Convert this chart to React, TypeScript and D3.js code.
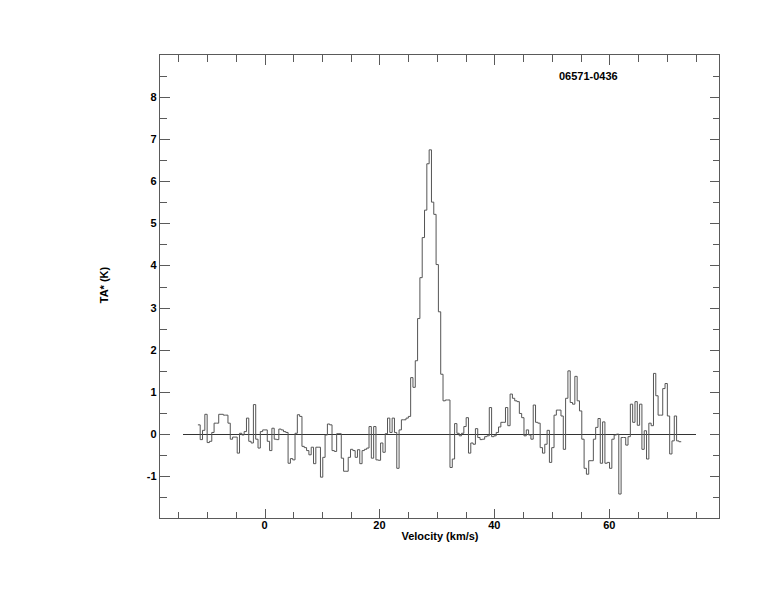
import React from 'react';
import * as d3 from 'd3';

const sourceName = '06571-0436';
const xTitle = 'Velocity (km/s)';
const yTitle = 'TA* (K)';

// spectrum channels (left edge of first channel, channel width in km/s)
const channelStart = -11.59;
const channelWidth = 0.4024;
const antennaTemp = [
  0.22, -0.13, 0.09, 0.47, -0.2, -0.17, 0.04, 0.26, 0.26, 0.47,
  0.47, 0.45, 0.45, 0.26, -0.12, -0.07, -0.07, -0.45, 0.02, -0.02,
  0.06, 0.38, -0.17, -0.21, 0.7, -0.12, -0.33, 0.06, 0.1, 0.1,
  -0.17, -0.39, 0.14, -0.12, -0.13, 0.12, 0.1, 0.06, 0.04, -0.69,
  -0.58, -0.61, 0.02, 0.46, 0.42, -0.29, -0.32, -0.39, -0.49, -0.31,
  -0.7, -0.31, -0.31, -1.02, -0.55, -0.02, 0.24, 0.22, -0.39, -0.41,
  0.01, 0.01, -0.57, -0.88, -0.88, -0.55, -0.36, -0.39, -0.55, -0.37,
  -0.7, -0.39, -0.36, -0.33, 0.18, -0.57, 0.18, -0.61, -0.62, -0.21,
  -0.43, 0.01, 0.38, 0.04, 0.38, 0.04, -0.81, 0.1, 0.34, 0.34,
  0.38, 0.42, 1.34, 1.11, 1.74, 2.74, 3.71, 4.66, 5.31, 6.41,
  6.74, 5.5, 5.21, 4.02, 2.9, 1.42, 0.79, 0.81, 0.81, -0.79,
  -0.59, 0.25, 0.02, -0.04, 0.02, 0.18, 0.39, -0.45, -0.21, -0.24,
  0.13, -0.08, -0.13, -0.12, -0.06, -0.04, 0.63, -0.06, -0.04, 0.04,
  0.17, 0.28, 0.28, 0.63, 0.2, 0.95, 0.85, 0.79, 0.77, 0.49,
  0.39, -0.04, 0.1, -0.02, -0.12, 0.69, 0.28, 0.26, -0.32, -0.45,
  -0.24, 0.09, -0.67, -0.32, 0.45, 0.57, 0.57, 0.43, -0.36, 0.85,
  1.5, 0.75, 0.71, 1.37, 0.79, 0.55, -0.12, -0.81, -0.95, -0.63,
  -0.63, -0.12, 0.16, 0.37, -0.69, 0.29, -0.69, -0.67, -0.81, -0.12,
  -0.02, 0.0, -1.42, -0.08, -0.08, -0.26, -0.06, 0.71, 0.28, 0.77,
  0.21, 0.71, -0.36, 0.08, -0.59, 0.26, 0.2, 1.44, 0.91, 0.45,
  0.45, 1.08, 1.2, 0.43, -0.47, -0.16, 0.43, -0.16, -0.18,
];

const xDomain = [-18.27, 79.17];
const yDomain = [-2, 9];
const xTickValues = [-15, -10, -5, 0, 5, 10, 15, 20, 25, 30, 35, 40, 45, 50, 55, 60, 65, 70, 75];
const xLabelValues = [0, 20, 40, 60];
const yTickValues = [-1.5, -1, -0.5, 0, 0.5, 1, 1.5, 2, 2.5, 3, 3.5, 4, 4.5, 5, 5.5, 6, 6.5, 7, 7.5, 8, 8.5];
const yLabelValues = [-1, 0, 1, 2, 3, 4, 5, 6, 7, 8];
const baselineRange = [-14.2, 75];

const W = 774;
const H = 612;
const L = 159.5;
const R = 719.5;
const T = 54.5;
const B = 518.5;
const FONT = '"Liberation Sans", Arial, Helvetica, sans-serif';
const AXIS = '#5a5a5a';
const LINE = '#555';

export default function App() {
  const x = d3.scaleLinear().domain(xDomain).range([L, R]);
  const y = d3.scaleLinear().domain(yDomain).range([B, T]);

  const pts: [number, number][] = antennaTemp.map((v, i) => [channelStart + i * channelWidth, v]);
  pts.push([channelStart + antennaTemp.length * channelWidth, antennaTemp[antennaTemp.length - 1]]);
  const stepLine = d3
    .line<[number, number]>()
    .x((d) => x(d[0]))
    .y((d) => y(d[1]))
    .curve(d3.curveStepAfter);

  const majorLen = 10;
  const minorLen = 7;

  return (
    <svg
      width={W}
      height={H}
      style={{ position: 'absolute', left: 0, top: 0, background: '#fff' }}
      fontFamily={FONT}
    >
      <rect x={0} y={0} width={W} height={H} fill="#fff" />
      {/* frame */}
      <rect x={L} y={T} width={R - L} height={B - T} fill="none" stroke={AXIS} strokeWidth={1} shapeRendering="crispEdges" />
      {/* x ticks bottom & top */}
      {xTickValues.map((v) => {
        const len = xLabelValues.includes(v) ? majorLen : minorLen;
        const px = Math.round(x(v)) + 0.5;
        return (
          <g key={'xt' + v} stroke={AXIS} shapeRendering="crispEdges">
            <line x1={px} x2={px} y1={B} y2={B - len} />
            <line x1={px} x2={px} y1={T} y2={T + len} />
          </g>
        );
      })}
      {/* y ticks left & right */}
      {yTickValues.map((v) => {
        const len = yLabelValues.includes(v) ? majorLen : minorLen;
        const py = Math.round(y(v)) + 0.5;
        return (
          <g key={'yt' + v} stroke={AXIS} shapeRendering="crispEdges">
            <line x1={L} x2={L + len} y1={py} y2={py} />
            <line x1={R} x2={R - len} y1={py} y2={py} />
          </g>
        );
      })}
      {/* tick labels */}
      {xLabelValues.map((v) => (
        <text key={'xl' + v} x={x(v)} y={529} textAnchor="middle" fontSize={11} fontWeight="bold" fill="#000">
          {v}
        </text>
      ))}
      {yLabelValues.map((v) => (
        <text key={'yl' + v} x={156.5} y={y(v) + 4} textAnchor="end" fontSize={11} fontWeight="bold" fill="#000">
          {v}
        </text>
      ))}
      {/* axis titles */}
      <text x={440} y={540} textAnchor="middle" fontSize={11} fontWeight="bold" fill="#000">
        {xTitle}
      </text>
      <text
        transform={`translate(108,${285}) rotate(-90)`}
        textAnchor="middle"
        fontSize={11}
        fontWeight="bold"
        fill="#000"
      >
        {yTitle}
      </text>
      {/* source name */}
      <text x={559} y={80} fontSize={11} fontWeight="bold" fill="#000">
        {sourceName}
      </text>
      {/* baseline */}
      <line
        x1={x(baselineRange[0])}
        x2={x(baselineRange[1])}
        y1={Math.round(y(0)) + 0.5}
        y2={Math.round(y(0)) + 0.5}
        stroke="#333"
        strokeWidth={1}
        shapeRendering="crispEdges"
      />
      {/* spectrum */}
      <path d={stepLine(pts) || ''} fill="none" stroke={LINE} strokeWidth={1} />
    </svg>
  );
}
